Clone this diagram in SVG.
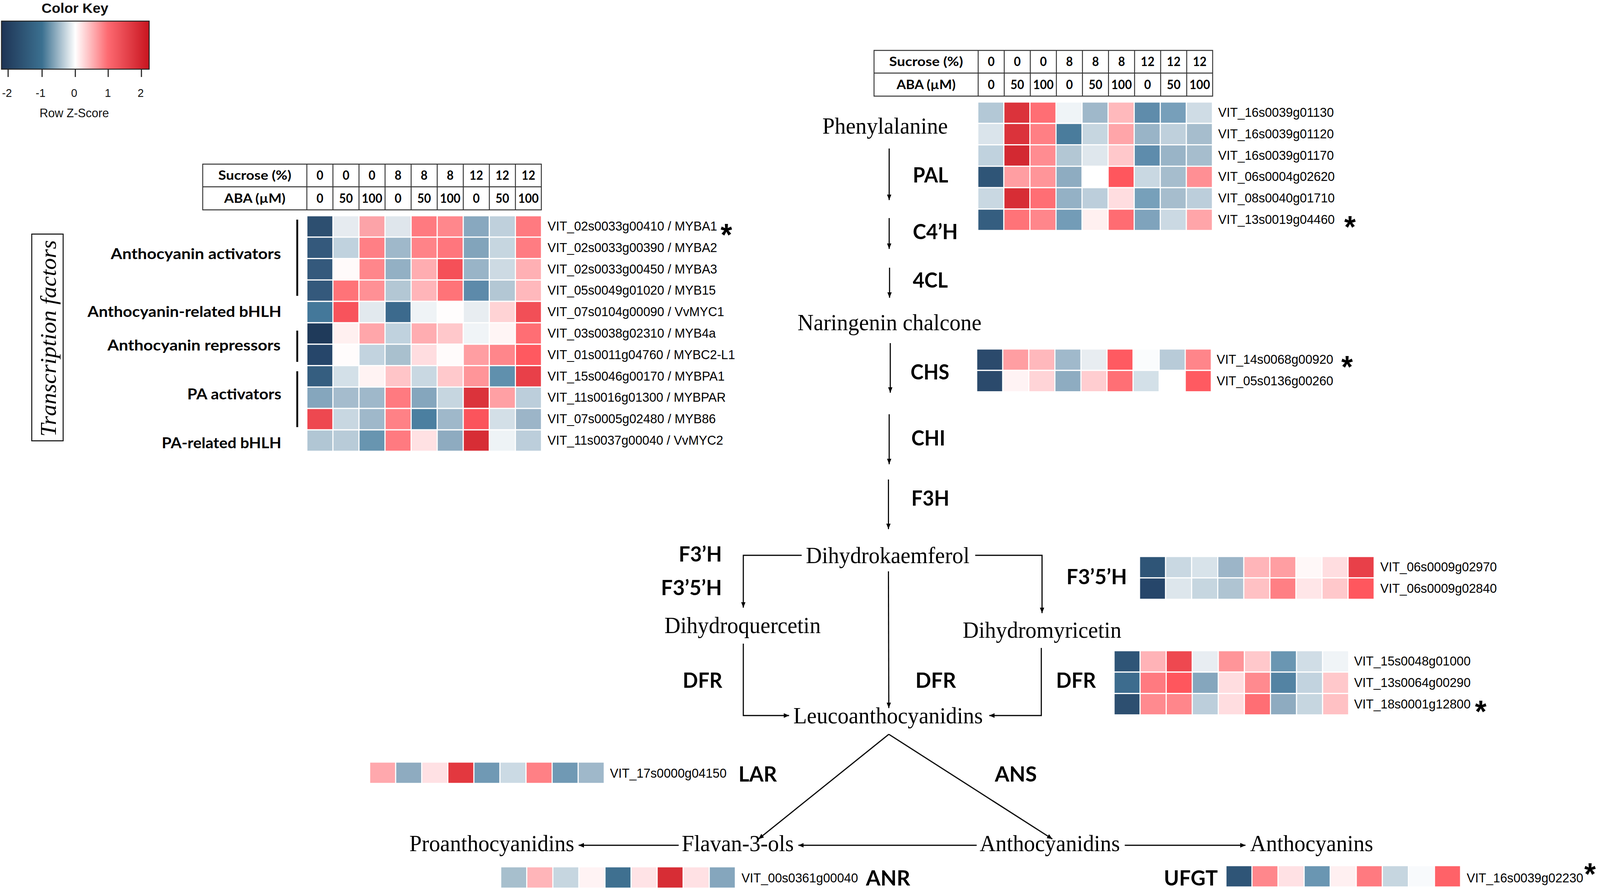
<svg xmlns="http://www.w3.org/2000/svg" width="4333" height="2280" viewBox="0 0 4333 2280">
<style>
.c{stroke:#fff;stroke-width:3}
.vit{font-family:"Liberation Sans",Arial,sans-serif;font-size:34px;fill:#000}
.enz{font-family:Lato,"Open Sans",sans-serif;font-weight:700;font-size:54px;fill:#000}
.cmp{font-family:"Liberation Serif","Times New Roman",serif;font-size:60px;text-anchor:middle;fill:#000}
.tb{font-family:Lato,"Open Sans",sans-serif;font-weight:700;font-size:32px;text-anchor:middle;fill:#000}
.grp{font-family:Lato,"Open Sans",sans-serif;font-weight:700;font-size:38px;text-anchor:end;fill:#000}
.ast{font-family:"Liberation Sans",Arial,sans-serif;font-weight:700;font-size:80px;text-anchor:middle;fill:#000}
.tl{stroke:#333;stroke-width:2.5;fill:none}
.conn line,.conn polyline{stroke:#000;stroke-width:3;fill:none;marker-end:url(#ah)}
.key{font-family:"Liberation Sans",Arial,sans-serif;fill:#111}
</style>
<defs>
<linearGradient id="kg" x1="0" y1="0" x2="1" y2="0">
<stop offset="0" stop-color="#1e3455"/>
<stop offset="0.275" stop-color="#3b7090"/>
<stop offset="0.5" stop-color="#ffffff"/>
<stop offset="0.72" stop-color="#fd6a71"/>
<stop offset="1" stop-color="#c8141f"/>
</linearGradient>
<marker id="ah" viewBox="0 0 12 10" refX="12" refY="5" markerWidth="14.4" markerHeight="12" markerUnits="userSpaceOnUse" orient="auto"><path d="M0,0 L12,5 L0,10 z" fill="#000"/></marker>
</defs>
<rect width="4333" height="2280" fill="#fff"/>
<g id="diagram" transform="scale(0.9453,1)">

<g id="color-key">
<text class="key" x="203" y="33" font-size="35" font-weight="700" text-anchor="middle" textLength="181" lengthAdjust="spacingAndGlyphs">Color Key</text>
<rect x="4" y="54" width="400" height="123" fill="url(#kg)" stroke="#222" stroke-width="2.5"/>
<g stroke="#222" stroke-width="3"><line x1="22" y1="177" x2="22" y2="197"/><line x1="114" y1="177" x2="114" y2="197"/><line x1="204" y1="177" x2="204" y2="197"/><line x1="293" y1="177" x2="293" y2="197"/><line x1="383" y1="177" x2="383" y2="197"/></g>
<g class="key" font-size="30" text-anchor="middle"><text x="19" y="248">-2</text><text x="110" y="248">-1</text><text x="201" y="248">0</text><text x="292" y="248">1</text><text x="381" y="248">2</text></g>
<text class="key" x="201" y="300" font-size="31" text-anchor="middle" textLength="188" lengthAdjust="spacingAndGlyphs">Row Z-Score</text>
</g>

<g id="tf-box">
<rect x="86" y="599" width="85" height="529" fill="none" stroke="#000" stroke-width="2.5"/>
<text transform="translate(151,866) rotate(-90)" font-family="Liberation Serif,Times New Roman,serif" font-style="italic" font-size="61" text-anchor="middle" textLength="503" lengthAdjust="spacingAndGlyphs">Transcription factors</text>
</g>

<g id="tf-groups">
<text class="grp" x="761" y="663" textLength="461" lengthAdjust="spacingAndGlyphs">Anthocyanin activators</text>
<text class="grp" x="762" y="811" textLength="525" lengthAdjust="spacingAndGlyphs">Anthocyanin-related bHLH</text>
<text class="grp" x="760" y="897" textLength="469" lengthAdjust="spacingAndGlyphs">Anthocyanin repressors</text>
<text class="grp" x="762" y="1022" textLength="255" lengthAdjust="spacingAndGlyphs">PA activators</text>
<text class="grp" x="762" y="1147" textLength="324" lengthAdjust="spacingAndGlyphs">PA-related bHLH</text>
<g stroke="#000" stroke-width="5"><line x1="805" y1="562" x2="805" y2="757"/><line x1="805" y1="846" x2="805" y2="926"/><line x1="805" y1="950" x2="805" y2="1093"/></g>
</g>

<g id="table-left" transform="translate(549,420)">
<rect class="tl" x="0" y="0" width="917" height="117"/>
<line class="tl" x1="0" y1="58" x2="917" y2="58"/>
<g class="tl"><line x1="282" y1="0" x2="282" y2="117"/><line x1="352.6" y1="0" x2="352.6" y2="117"/><line x1="423.2" y1="0" x2="423.2" y2="117"/><line x1="493.8" y1="0" x2="493.8" y2="117"/><line x1="564.4" y1="0" x2="564.4" y2="117"/><line x1="635" y1="0" x2="635" y2="117"/><line x1="705.6" y1="0" x2="705.6" y2="117"/><line x1="776.2" y1="0" x2="776.2" y2="117"/><line x1="846.8" y1="0" x2="846.8" y2="117"/></g>
<text class="tb" x="141" y="40.5" textLength="198" lengthAdjust="spacingAndGlyphs">Sucrose (%)</text>
<text class="tb" x="141" y="99" textLength="166" lengthAdjust="spacingAndGlyphs">ABA (µM)</text>
<text class="tb" x="317.3" y="40.5">0</text><text class="tb" x="387.9" y="40.5">0</text><text class="tb" x="458.5" y="40.5">0</text><text class="tb" x="529.1" y="40.5">8</text><text class="tb" x="599.7" y="40.5">8</text><text class="tb" x="670.3" y="40.5">8</text><text class="tb" x="740.9" y="40.5">12</text><text class="tb" x="811.5" y="40.5">12</text><text class="tb" x="882.1" y="40.5">12</text>
<text class="tb" x="317.3" y="99">0</text><text class="tb" x="387.9" y="99">50</text><text class="tb" x="458.5" y="99">100</text><text class="tb" x="529.1" y="99">0</text><text class="tb" x="599.7" y="99">50</text><text class="tb" x="670.3" y="99">100</text><text class="tb" x="740.9" y="99">0</text><text class="tb" x="811.5" y="99">50</text><text class="tb" x="882.1" y="99">100</text>
</g>

<g id="heatmap-tf" transform="translate(831,552)">
<g><rect class="c" x="0" y="0" width="70.6" height="54.8" fill="#2d4f70"/><rect class="c" x="70.6" y="0" width="70.6" height="54.8" fill="#e6ebf0"/><rect class="c" x="141.2" y="0" width="70.6" height="54.8" fill="#fca3a8"/><rect class="c" x="211.8" y="0" width="70.6" height="54.8" fill="#dfe6ec"/><rect class="c" x="282.4" y="0" width="70.6" height="54.8" fill="#ff7a80"/><rect class="c" x="353" y="0" width="70.6" height="54.8" fill="#ff878c"/><rect class="c" x="423.6" y="0" width="70.6" height="54.8" fill="#88a8bf"/><rect class="c" x="494.2" y="0" width="70.6" height="54.8" fill="#bfd0dc"/><rect class="c" x="564.8" y="0" width="70.6" height="54.8" fill="#ff7a80"/></g>
<g transform="translate(0,54.8)"><rect class="c" x="0" y="0" width="70.6" height="54.8" fill="#34597c"/><rect class="c" x="70.6" y="0" width="70.6" height="54.8" fill="#c0d2de"/><rect class="c" x="141.2" y="0" width="70.6" height="54.8" fill="#ff7f85"/><rect class="c" x="211.8" y="0" width="70.6" height="54.8" fill="#9fb8ca"/><rect class="c" x="282.4" y="0" width="70.6" height="54.8" fill="#ff8388"/><rect class="c" x="353" y="0" width="70.6" height="54.8" fill="#ff767d"/><rect class="c" x="423.6" y="0" width="70.6" height="54.8" fill="#82a4bb"/><rect class="c" x="494.2" y="0" width="70.6" height="54.8" fill="#c6d6e0"/><rect class="c" x="564.8" y="0" width="70.6" height="54.8" fill="#ff7c82"/></g>
<g transform="translate(0,109.6)"><rect class="c" x="0" y="0" width="70.6" height="54.8" fill="#34597c"/><rect class="c" x="70.6" y="0" width="70.6" height="54.8" fill="#fffafa"/><rect class="c" x="141.2" y="0" width="70.6" height="54.8" fill="#ff868b"/><rect class="c" x="211.8" y="0" width="70.6" height="54.8" fill="#93b0c4"/><rect class="c" x="282.4" y="0" width="70.6" height="54.8" fill="#ffadb1"/><rect class="c" x="353" y="0" width="70.6" height="54.8" fill="#f55058"/><rect class="c" x="423.6" y="0" width="70.6" height="54.8" fill="#99b4c7"/><rect class="c" x="494.2" y="0" width="70.6" height="54.8" fill="#cddae3"/><rect class="c" x="564.8" y="0" width="70.6" height="54.8" fill="#ffb0b4"/></g>
<g transform="translate(0,164.4)"><rect class="c" x="0" y="0" width="70.6" height="54.8" fill="#34597c"/><rect class="c" x="70.6" y="0" width="70.6" height="54.8" fill="#ff7378"/><rect class="c" x="141.2" y="0" width="70.6" height="54.8" fill="#ff9095"/><rect class="c" x="211.8" y="0" width="70.6" height="54.8" fill="#b3c7d4"/><rect class="c" x="282.4" y="0" width="70.6" height="54.8" fill="#ffb5b9"/><rect class="c" x="353" y="0" width="70.6" height="54.8" fill="#ff7378"/><rect class="c" x="423.6" y="0" width="70.6" height="54.8" fill="#5d8aaa"/><rect class="c" x="494.2" y="0" width="70.6" height="54.8" fill="#b3c7d4"/><rect class="c" x="564.8" y="0" width="70.6" height="54.8" fill="#ffb8bc"/></g>
<g transform="translate(0,219.2)"><rect class="c" x="0" y="0" width="70.6" height="54.8" fill="#44789a"/><rect class="c" x="70.6" y="0" width="70.6" height="54.8" fill="#f8535c"/><rect class="c" x="141.2" y="0" width="70.6" height="54.8" fill="#e2e9ee"/><rect class="c" x="211.8" y="0" width="70.6" height="54.8" fill="#3c6a8d"/><rect class="c" x="282.4" y="0" width="70.6" height="54.8" fill="#eff3f6"/><rect class="c" x="353" y="0" width="70.6" height="54.8" fill="#fffdfd"/><rect class="c" x="423.6" y="0" width="70.6" height="54.8" fill="#e8edf1"/><rect class="c" x="494.2" y="0" width="70.6" height="54.8" fill="#ffd3d5"/><rect class="c" x="564.8" y="0" width="70.6" height="54.8" fill="#f24f57"/></g>
<g transform="translate(0,274)"><rect class="c" x="0" y="0" width="70.6" height="54.8" fill="#1f3a5a"/><rect class="c" x="70.6" y="0" width="70.6" height="54.8" fill="#fff0f0"/><rect class="c" x="141.2" y="0" width="70.6" height="54.8" fill="#ffa6aa"/><rect class="c" x="211.8" y="0" width="70.6" height="54.8" fill="#c0d2de"/><rect class="c" x="282.4" y="0" width="70.6" height="54.8" fill="#ffadb1"/><rect class="c" x="353" y="0" width="70.6" height="54.8" fill="#ffc8cb"/><rect class="c" x="423.6" y="0" width="70.6" height="54.8" fill="#f0f4f7"/><rect class="c" x="494.2" y="0" width="70.6" height="54.8" fill="#fff5f5"/><rect class="c" x="564.8" y="0" width="70.6" height="54.8" fill="#ff6e74"/></g>
<g transform="translate(0,328.8)"><rect class="c" x="0" y="0" width="70.6" height="54.8" fill="#26466a"/><rect class="c" x="70.6" y="0" width="70.6" height="54.8" fill="#fffcfc"/><rect class="c" x="141.2" y="0" width="70.6" height="54.8" fill="#c2d3df"/><rect class="c" x="211.8" y="0" width="70.6" height="54.8" fill="#a9c0ce"/><rect class="c" x="282.4" y="0" width="70.6" height="54.8" fill="#ffdde0"/><rect class="c" x="353" y="0" width="70.6" height="54.8" fill="#fffbfb"/><rect class="c" x="423.6" y="0" width="70.6" height="54.8" fill="#ff9ea2"/><rect class="c" x="494.2" y="0" width="70.6" height="54.8" fill="#ff868b"/><rect class="c" x="564.8" y="0" width="70.6" height="54.8" fill="#ff5960"/></g>
<g transform="translate(0,383.6)"><rect class="c" x="0" y="0" width="70.6" height="54.8" fill="#355e80"/><rect class="c" x="70.6" y="0" width="70.6" height="54.8" fill="#d3e0e8"/><rect class="c" x="141.2" y="0" width="70.6" height="54.8" fill="#fff3f3"/><rect class="c" x="211.8" y="0" width="70.6" height="54.8" fill="#ffc5c8"/><rect class="c" x="282.4" y="0" width="70.6" height="54.8" fill="#c9d8e2"/><rect class="c" x="353" y="0" width="70.6" height="54.8" fill="#ffc9cc"/><rect class="c" x="423.6" y="0" width="70.6" height="54.8" fill="#ff9599"/><rect class="c" x="494.2" y="0" width="70.6" height="54.8" fill="#6090ad"/><rect class="c" x="564.8" y="0" width="70.6" height="54.8" fill="#e84049"/></g>
<g transform="translate(0,438.4)"><rect class="c" x="0" y="0" width="70.6" height="54.8" fill="#85a6bd"/><rect class="c" x="70.6" y="0" width="70.6" height="54.8" fill="#a5bccd"/><rect class="c" x="141.2" y="0" width="70.6" height="54.8" fill="#9fb8ca"/><rect class="c" x="211.8" y="0" width="70.6" height="54.8" fill="#ff7a80"/><rect class="c" x="282.4" y="0" width="70.6" height="54.8" fill="#85a6bd"/><rect class="c" x="353" y="0" width="70.6" height="54.8" fill="#c6d6e0"/><rect class="c" x="423.6" y="0" width="70.6" height="54.8" fill="#db333b"/><rect class="c" x="494.2" y="0" width="70.6" height="54.8" fill="#ffa0a4"/><rect class="c" x="564.8" y="0" width="70.6" height="54.8" fill="#bccedb"/></g>
<g transform="translate(0,493.2)"><rect class="c" x="0" y="0" width="70.6" height="54.8" fill="#ee4850"/><rect class="c" x="70.6" y="0" width="70.6" height="54.8" fill="#c8d7e1"/><rect class="c" x="141.2" y="0" width="70.6" height="54.8" fill="#9fb8ca"/><rect class="c" x="211.8" y="0" width="70.6" height="54.8" fill="#ff8186"/><rect class="c" x="282.4" y="0" width="70.6" height="54.8" fill="#4b7fa0"/><rect class="c" x="353" y="0" width="70.6" height="54.8" fill="#9fb8ca"/><rect class="c" x="423.6" y="0" width="70.6" height="54.8" fill="#fb545c"/><rect class="c" x="494.2" y="0" width="70.6" height="54.8" fill="#d3dfe7"/><rect class="c" x="564.8" y="0" width="70.6" height="54.8" fill="#9cb5c8"/></g>
<g transform="translate(0,548)"><rect class="c" x="0" y="0" width="70.6" height="54.8" fill="#b1c6d4"/><rect class="c" x="70.6" y="0" width="70.6" height="54.8" fill="#b8cbd8"/><rect class="c" x="141.2" y="0" width="70.6" height="54.8" fill="#6895b0"/><rect class="c" x="211.8" y="0" width="70.6" height="54.8" fill="#ff7a80"/><rect class="c" x="282.4" y="0" width="70.6" height="54.8" fill="#ffe1e3"/><rect class="c" x="353" y="0" width="70.6" height="54.8" fill="#8eabc0"/><rect class="c" x="423.6" y="0" width="70.6" height="54.8" fill="#d72d35"/><rect class="c" x="494.2" y="0" width="70.6" height="54.8" fill="#eef3f6"/><rect class="c" x="564.8" y="0" width="70.6" height="54.8" fill="#bccedb"/></g>
</g>
<g id="labels-tf">
<text class="vit" x="1483" y="590">VIT_02s0033g00410 / MYBA1</text>
<text class="vit" x="1483" y="644.8">VIT_02s0033g00390 / MYBA2</text>
<text class="vit" x="1483" y="699.6">VIT_02s0033g00450 / MYBA3</text>
<text class="vit" x="1483" y="754.4">VIT_05s0049g01020 / MYB15</text>
<text class="vit" x="1483" y="809.2">VIT_07s0104g00090 / VvMYC1</text>
<text class="vit" x="1483" y="864">VIT_03s0038g02310 / MYB4a</text>
<text class="vit" x="1483" y="918.8">VIT_01s0011g04760 / MYBC2-L1</text>
<text class="vit" x="1483" y="973.6">VIT_15s0046g00170 / MYBPA1</text>
<text class="vit" x="1483" y="1028.4">VIT_11s0016g01300 / MYBPAR</text>
<text class="vit" x="1483" y="1083.2">VIT_07s0005g02480 / MYB86</text>
<text class="vit" x="1483" y="1138">VIT_11s0037g00040 / VvMYC2</text>
<text class="ast" x="1967" y="628">*</text>
</g>

<g id="table-right" transform="translate(2367,129)">
<rect class="tl" x="0" y="0" width="917" height="117"/>
<line class="tl" x1="0" y1="58" x2="917" y2="58"/>
<g class="tl"><line x1="282" y1="0" x2="282" y2="117"/><line x1="352.6" y1="0" x2="352.6" y2="117"/><line x1="423.2" y1="0" x2="423.2" y2="117"/><line x1="493.8" y1="0" x2="493.8" y2="117"/><line x1="564.4" y1="0" x2="564.4" y2="117"/><line x1="635" y1="0" x2="635" y2="117"/><line x1="705.6" y1="0" x2="705.6" y2="117"/><line x1="776.2" y1="0" x2="776.2" y2="117"/><line x1="846.8" y1="0" x2="846.8" y2="117"/></g>
<text class="tb" x="141" y="40.5" textLength="200" lengthAdjust="spacingAndGlyphs">Sucrose (%)</text>
<text class="tb" x="141" y="99" textLength="160" lengthAdjust="spacingAndGlyphs">ABA (µM)</text>
<text class="tb" x="317.3" y="40.5">0</text><text class="tb" x="387.9" y="40.5">0</text><text class="tb" x="458.5" y="40.5">0</text><text class="tb" x="529.1" y="40.5">8</text><text class="tb" x="599.7" y="40.5">8</text><text class="tb" x="670.3" y="40.5">8</text><text class="tb" x="740.9" y="40.5">12</text><text class="tb" x="811.5" y="40.5">12</text><text class="tb" x="882.1" y="40.5">12</text>
<text class="tb" x="317.3" y="99">0</text><text class="tb" x="387.9" y="99">50</text><text class="tb" x="458.5" y="99">100</text><text class="tb" x="529.1" y="99">0</text><text class="tb" x="599.7" y="99">50</text><text class="tb" x="670.3" y="99">100</text><text class="tb" x="740.9" y="99">0</text><text class="tb" x="811.5" y="99">50</text><text class="tb" x="882.1" y="99">100</text>
</g>

<g id="heatmap-pal" transform="translate(2648,261)">
<g><rect class="c" x="0" y="0" width="70.6" height="54.8" fill="#b3c8d6"/><rect class="c" x="70.6" y="0" width="70.6" height="54.8" fill="#db333b"/><rect class="c" x="141.2" y="0" width="70.6" height="54.8" fill="#ff6e74"/><rect class="c" x="211.8" y="0" width="70.6" height="54.8" fill="#eff4f7"/><rect class="c" x="282.4" y="0" width="70.6" height="54.8" fill="#9fb8ca"/><rect class="c" x="353" y="0" width="70.6" height="54.8" fill="#ffb9bc"/><rect class="c" x="423.6" y="0" width="70.6" height="54.8" fill="#5f8cab"/><rect class="c" x="494.2" y="0" width="70.6" height="54.8" fill="#779fba"/><rect class="c" x="564.8" y="0" width="70.6" height="54.8" fill="#cfdce5"/></g>
<g transform="translate(0,54.8)"><rect class="c" x="0" y="0" width="70.6" height="54.8" fill="#dae4eb"/><rect class="c" x="70.6" y="0" width="70.6" height="54.8" fill="#db333b"/><rect class="c" x="141.2" y="0" width="70.6" height="54.8" fill="#ff7f84"/><rect class="c" x="211.8" y="0" width="70.6" height="54.8" fill="#4a7c9c"/><rect class="c" x="282.4" y="0" width="70.6" height="54.8" fill="#c6d6e0"/><rect class="c" x="353" y="0" width="70.6" height="54.8" fill="#ffa5a9"/><rect class="c" x="423.6" y="0" width="70.6" height="54.8" fill="#99b4c7"/><rect class="c" x="494.2" y="0" width="70.6" height="54.8" fill="#bfd0dc"/><rect class="c" x="564.8" y="0" width="70.6" height="54.8" fill="#a6bdcd"/></g>
<g transform="translate(0,109.6)"><rect class="c" x="0" y="0" width="70.6" height="54.8" fill="#c0d2de"/><rect class="c" x="70.6" y="0" width="70.6" height="54.8" fill="#d32932"/><rect class="c" x="141.2" y="0" width="70.6" height="54.8" fill="#ff8c91"/><rect class="c" x="211.8" y="0" width="70.6" height="54.8" fill="#b3c7d4"/><rect class="c" x="282.4" y="0" width="70.6" height="54.8" fill="#dfe7ed"/><rect class="c" x="353" y="0" width="70.6" height="54.8" fill="#ffc8cb"/><rect class="c" x="423.6" y="0" width="70.6" height="54.8" fill="#5e8cac"/><rect class="c" x="494.2" y="0" width="70.6" height="54.8" fill="#99b4c7"/><rect class="c" x="564.8" y="0" width="70.6" height="54.8" fill="#a6bdcd"/></g>
<g transform="translate(0,164.4)"><rect class="c" x="0" y="0" width="70.6" height="54.8" fill="#2f5577"/><rect class="c" x="70.6" y="0" width="70.6" height="54.8" fill="#ff9ea2"/><rect class="c" x="141.2" y="0" width="70.6" height="54.8" fill="#ff9599"/><rect class="c" x="211.8" y="0" width="70.6" height="54.8" fill="#8eacc1"/><rect class="c" x="282.4" y="0" width="70.6" height="54.8" fill="#ffffff"/><rect class="c" x="353" y="0" width="70.6" height="54.8" fill="#ff565d"/><rect class="c" x="423.6" y="0" width="70.6" height="54.8" fill="#c9d8e2"/><rect class="c" x="494.2" y="0" width="70.6" height="54.8" fill="#a6bdcd"/><rect class="c" x="564.8" y="0" width="70.6" height="54.8" fill="#ff8f94"/></g>
<g transform="translate(0,219.2)"><rect class="c" x="0" y="0" width="70.6" height="54.8" fill="#c9d8e2"/><rect class="c" x="70.6" y="0" width="70.6" height="54.8" fill="#d72d35"/><rect class="c" x="141.2" y="0" width="70.6" height="54.8" fill="#ff6e74"/><rect class="c" x="211.8" y="0" width="70.6" height="54.8" fill="#94b1c5"/><rect class="c" x="282.4" y="0" width="70.6" height="54.8" fill="#bccedb"/><rect class="c" x="353" y="0" width="70.6" height="54.8" fill="#ffdde0"/><rect class="c" x="423.6" y="0" width="70.6" height="54.8" fill="#77a0ba"/><rect class="c" x="494.2" y="0" width="70.6" height="54.8" fill="#a6bdcd"/><rect class="c" x="564.8" y="0" width="70.6" height="54.8" fill="#bccedb"/></g>
<g transform="translate(0,274)"><rect class="c" x="0" y="0" width="70.6" height="54.8" fill="#355e80"/><rect class="c" x="70.6" y="0" width="70.6" height="54.8" fill="#ff7378"/><rect class="c" x="141.2" y="0" width="70.6" height="54.8" fill="#ff868b"/><rect class="c" x="211.8" y="0" width="70.6" height="54.8" fill="#739cb7"/><rect class="c" x="282.4" y="0" width="70.6" height="54.8" fill="#fff0f0"/><rect class="c" x="353" y="0" width="70.6" height="54.8" fill="#ff6c72"/><rect class="c" x="423.6" y="0" width="70.6" height="54.8" fill="#7fa3bc"/><rect class="c" x="494.2" y="0" width="70.6" height="54.8" fill="#cbd9e3"/><rect class="c" x="564.8" y="0" width="70.6" height="54.8" fill="#ffa5a9"/></g>
</g>
<g id="labels-pal">
<text class="vit" x="3299" y="299">VIT_16s0039g01130</text>
<text class="vit" x="3299" y="353.8">VIT_16s0039g01120</text>
<text class="vit" x="3299" y="408.6">VIT_16s0039g01170</text>
<text class="vit" x="3299" y="463.4">VIT_06s0004g02620</text>
<text class="vit" x="3299" y="518.2">VIT_08s0040g01710</text>
<text class="vit" x="3299" y="573">VIT_13s0019g04460</text>
<text class="ast" x="3656" y="608">*</text>
</g>

<g id="heatmap-chs" transform="translate(2645,893)">
<g><rect class="c" x="0" y="0" width="70.6" height="54.8" fill="#2b4a6c"/><rect class="c" x="70.6" y="0" width="70.6" height="54.8" fill="#ff9ea2"/><rect class="c" x="141.2" y="0" width="70.6" height="54.8" fill="#ffb8bc"/><rect class="c" x="211.8" y="0" width="70.6" height="54.8" fill="#a0b9cb"/><rect class="c" x="282.4" y="0" width="70.6" height="54.8" fill="#e8edf1"/><rect class="c" x="353" y="0" width="70.6" height="54.8" fill="#ff5a61"/><rect class="c" x="423.6" y="0" width="70.6" height="54.8" fill="#fafcfd"/><rect class="c" x="494.2" y="0" width="70.6" height="54.8" fill="#b8cbd8"/><rect class="c" x="564.8" y="0" width="70.6" height="54.8" fill="#ff858a"/></g>
<g transform="translate(0,54.8)"><rect class="c" x="0" y="0" width="70.6" height="54.8" fill="#2b4a6c"/><rect class="c" x="70.6" y="0" width="70.6" height="54.8" fill="#fff3f4"/><rect class="c" x="141.2" y="0" width="70.6" height="54.8" fill="#ffd4d7"/><rect class="c" x="211.8" y="0" width="70.6" height="54.8" fill="#8eacc1"/><rect class="c" x="282.4" y="0" width="70.6" height="54.8" fill="#ffcdd0"/><rect class="c" x="353" y="0" width="70.6" height="54.8" fill="#ff6f75"/><rect class="c" x="423.6" y="0" width="70.6" height="54.8" fill="#d3e0e8"/><rect class="c" x="494.2" y="0" width="70.6" height="54.8" fill="#ffffff"/><rect class="c" x="564.8" y="0" width="70.6" height="54.8" fill="#ff5a61"/></g>
</g>
<g id="labels-chs">
<text class="vit" x="3295" y="931">VIT_14s0068g00920</text>
<text class="vit" x="3295" y="986">VIT_05s0136g00260</text>
<text class="ast" x="3648" y="966">*</text>
</g>

<g id="heatmap-f35h" transform="translate(3086,1424)">
<g><rect class="c" x="0" y="0" width="70.6" height="54.8" fill="#2f5577"/><rect class="c" x="70.6" y="0" width="70.6" height="54.8" fill="#c9d8e2"/><rect class="c" x="141.2" y="0" width="70.6" height="54.8" fill="#d8e3ea"/><rect class="c" x="211.8" y="0" width="70.6" height="54.8" fill="#9cb5c8"/><rect class="c" x="282.4" y="0" width="70.6" height="54.8" fill="#ffb5b9"/><rect class="c" x="353" y="0" width="70.6" height="54.8" fill="#ff9ea2"/><rect class="c" x="423.6" y="0" width="70.6" height="54.8" fill="#fff8f8"/><rect class="c" x="494.2" y="0" width="70.6" height="54.8" fill="#ffdde0"/><rect class="c" x="564.8" y="0" width="70.6" height="54.8" fill="#e84049"/></g>
<g transform="translate(0,54.8)"><rect class="c" x="0" y="0" width="70.6" height="54.8" fill="#26466a"/><rect class="c" x="70.6" y="0" width="70.6" height="54.8" fill="#dde6ec"/><rect class="c" x="141.2" y="0" width="70.6" height="54.8" fill="#c6d6e0"/><rect class="c" x="211.8" y="0" width="70.6" height="54.8" fill="#afc4d2"/><rect class="c" x="282.4" y="0" width="70.6" height="54.8" fill="#ffc1c4"/><rect class="c" x="353" y="0" width="70.6" height="54.8" fill="#ff7f84"/><rect class="c" x="423.6" y="0" width="70.6" height="54.8" fill="#ffe6e8"/><rect class="c" x="494.2" y="0" width="70.6" height="54.8" fill="#ffc8cb"/><rect class="c" x="564.8" y="0" width="70.6" height="54.8" fill="#ff575e"/></g>
</g>
<g id="labels-f35h">
<text class="vit" x="3738" y="1462">VIT_06s0009g02970</text>
<text class="vit" x="3738" y="1517">VIT_06s0009g02840</text>
</g>

<g id="heatmap-dfr" transform="translate(3017,1665)">
<g><rect class="c" x="0" y="0" width="70.6" height="54.8" fill="#2f5577"/><rect class="c" x="70.6" y="0" width="70.6" height="54.8" fill="#ffb3b7"/><rect class="c" x="141.2" y="0" width="70.6" height="54.8" fill="#ee4850"/><rect class="c" x="211.8" y="0" width="70.6" height="54.8" fill="#e8edf2"/><rect class="c" x="282.4" y="0" width="70.6" height="54.8" fill="#ff9599"/><rect class="c" x="353" y="0" width="70.6" height="54.8" fill="#ffc8cb"/><rect class="c" x="423.6" y="0" width="70.6" height="54.8" fill="#6a96b2"/><rect class="c" x="494.2" y="0" width="70.6" height="54.8" fill="#d0dde6"/><rect class="c" x="564.8" y="0" width="70.6" height="54.8" fill="#f0f4f7"/></g>
<g transform="translate(0,54.8)"><rect class="c" x="0" y="0" width="70.6" height="54.8" fill="#3d6c8e"/><rect class="c" x="70.6" y="0" width="70.6" height="54.8" fill="#ff7a80"/><rect class="c" x="141.2" y="0" width="70.6" height="54.8" fill="#ff565d"/><rect class="c" x="211.8" y="0" width="70.6" height="54.8" fill="#85a6bd"/><rect class="c" x="282.4" y="0" width="70.6" height="54.8" fill="#ffdde0"/><rect class="c" x="353" y="0" width="70.6" height="54.8" fill="#ff8a8f"/><rect class="c" x="423.6" y="0" width="70.6" height="54.8" fill="#5383a3"/><rect class="c" x="494.2" y="0" width="70.6" height="54.8" fill="#c2d3df"/><rect class="c" x="564.8" y="0" width="70.6" height="54.8" fill="#ffc8cb"/></g>
<g transform="translate(0,109.6)"><rect class="c" x="0" y="0" width="70.6" height="54.8" fill="#2d4f70"/><rect class="c" x="70.6" y="0" width="70.6" height="54.8" fill="#ff8a8f"/><rect class="c" x="141.2" y="0" width="70.6" height="54.8" fill="#ff868b"/><rect class="c" x="211.8" y="0" width="70.6" height="54.8" fill="#bccedb"/><rect class="c" x="282.4" y="0" width="70.6" height="54.8" fill="#ffdde0"/><rect class="c" x="353" y="0" width="70.6" height="54.8" fill="#ff6e74"/><rect class="c" x="423.6" y="0" width="70.6" height="54.8" fill="#8eabc0"/><rect class="c" x="494.2" y="0" width="70.6" height="54.8" fill="#c6d6e0"/><rect class="c" x="564.8" y="0" width="70.6" height="54.8" fill="#ffc1c4"/></g>
</g>
<g id="labels-dfr">
<text class="vit" x="3667" y="1703">VIT_15s0048g01000</text>
<text class="vit" x="3667" y="1758">VIT_13s0064g00290</text>
<text class="vit" x="3667" y="1813">VIT_18s0001g12800</text>
<text class="ast" x="4010" y="1848">*</text>
</g>

<g id="heatmap-lar" transform="translate(1001,1950)">
<rect class="c" x="0" y="0" width="70.6" height="54.8" fill="#ffa8ad"/><rect class="c" x="70.6" y="0" width="70.6" height="54.8" fill="#8eabc0"/><rect class="c" x="141.2" y="0" width="70.6" height="54.8" fill="#ffe1e4"/><rect class="c" x="211.8" y="0" width="70.6" height="54.8" fill="#e3383f"/><rect class="c" x="282.4" y="0" width="70.6" height="54.8" fill="#7099b4"/><rect class="c" x="353" y="0" width="70.6" height="54.8" fill="#cbdae4"/><rect class="c" x="423.6" y="0" width="70.6" height="54.8" fill="#ff8085"/><rect class="c" x="494.2" y="0" width="70.6" height="54.8" fill="#7099b4"/><rect class="c" x="564.8" y="0" width="70.6" height="54.8" fill="#9fb8ca"/>
</g>
<g id="labels-lar"><text class="vit" x="1652" y="1990">VIT_17s0000g04150</text></g>

<g id="heatmap-anr" transform="translate(1356,2218)">
<rect class="c" x="0" y="0" width="70.6" height="54.8" fill="#a7bfcd"/><rect class="c" x="70.6" y="0" width="70.6" height="54.8" fill="#ffb5b9"/><rect class="c" x="141.2" y="0" width="70.6" height="54.8" fill="#c6d6e0"/><rect class="c" x="211.8" y="0" width="70.6" height="54.8" fill="#fff3f4"/><rect class="c" x="282.4" y="0" width="70.6" height="54.8" fill="#3f7090"/><rect class="c" x="353" y="0" width="70.6" height="54.8" fill="#ffe3e6"/><rect class="c" x="423.6" y="0" width="70.6" height="54.8" fill="#d72d35"/><rect class="c" x="494.2" y="0" width="70.6" height="54.8" fill="#ffe1e4"/><rect class="c" x="564.8" y="0" width="70.6" height="54.8" fill="#85a6bd"/>
</g>
<g id="labels-anr"><text class="vit" x="2008" y="2258">VIT_00s0361g00040</text></g>

<g id="heatmap-ufgt" transform="translate(3320,2215)">
<rect class="c" x="0" y="0" width="70.6" height="54.8" fill="#2f5577"/><rect class="c" x="70.6" y="0" width="70.6" height="54.8" fill="#ff878c"/><rect class="c" x="141.2" y="0" width="70.6" height="54.8" fill="#ffe1e4"/><rect class="c" x="211.8" y="0" width="70.6" height="54.8" fill="#6a96b2"/><rect class="c" x="282.4" y="0" width="70.6" height="54.8" fill="#fff0f1"/><rect class="c" x="353" y="0" width="70.6" height="54.8" fill="#ff7a80"/><rect class="c" x="423.6" y="0" width="70.6" height="54.8" fill="#c6d6e0"/><rect class="c" x="494.2" y="0" width="70.6" height="54.8" fill="#f8fafc"/><rect class="c" x="564.8" y="0" width="70.6" height="54.8" fill="#ff6268"/>
</g>
<g id="labels-ufgt"><text class="vit" x="3972" y="2258">VIT_16s0039g02230</text><text class="ast" x="4306" y="2264" font-size="66">*</text></g>

<g id="compounds">
<g id="n-phe"><text class="cmp" x="2397" y="342">Phenylalanine</text></g>
<g id="n-nar"><text class="cmp" x="2409" y="845">Naringenin chalcone</text></g>
<g id="n-dhk"><text class="cmp" x="2404" y="1441">Dihydrokaemferol</text></g>
<g id="n-dhq"><text class="cmp" x="2011" y="1620">Dihydroquercetin</text></g>
<g id="n-dhm"><text class="cmp" x="2822" y="1632">Dihydromyricetin</text></g>
<g id="n-leu"><text class="cmp" x="2405" y="1851">Leucoanthocyanidins</text></g>
<g id="n-pro"><text class="cmp" x="1332" y="2178">Proanthocyanidins</text></g>
<g id="n-fla"><text class="cmp" x="1998" y="2178">Flavan-3-ols</text></g>
<g id="n-acd"><text class="cmp" x="2843" y="2178">Anthocyanidins</text></g>
<g id="n-acn"><text class="cmp" x="3552" y="2178">Anthocyanins</text></g>
</g>

<g id="enzymes">
<text class="enz" x="2472" y="467" textLength="96" lengthAdjust="spacingAndGlyphs">PAL</text>
<text class="enz" x="2472" y="612" textLength="122" lengthAdjust="spacingAndGlyphs">C4’H</text>
<text class="enz" x="2472" y="736" textLength="95" lengthAdjust="spacingAndGlyphs">4CL</text>
<text class="enz" x="2466" y="971" textLength="105" lengthAdjust="spacingAndGlyphs">CHS</text>
<text class="enz" x="2468" y="1140" textLength="92" lengthAdjust="spacingAndGlyphs">CHI</text>
<text class="enz" x="2468" y="1294" textLength="103" lengthAdjust="spacingAndGlyphs">F3H</text>
<text class="enz" x="1838" y="1437" textLength="117" lengthAdjust="spacingAndGlyphs">F3’H</text>
<text class="enz" x="1790" y="1523" textLength="165" lengthAdjust="spacingAndGlyphs">F3’5’H</text>
<text class="enz" x="2888" y="1495" textLength="164" lengthAdjust="spacingAndGlyphs">F3’5’H</text>
<text class="enz" x="1849" y="1760" textLength="107" lengthAdjust="spacingAndGlyphs">DFR</text>
<text class="enz" x="2479" y="1760" textLength="110" lengthAdjust="spacingAndGlyphs">DFR</text>
<text class="enz" x="2860" y="1760" textLength="108" lengthAdjust="spacingAndGlyphs">DFR</text>
<text class="enz" x="2000" y="2000" textLength="104" lengthAdjust="spacingAndGlyphs">LAR</text>
<text class="enz" x="2694" y="2000" textLength="114" lengthAdjust="spacingAndGlyphs">ANS</text>
<text class="enz" x="2345" y="2266" textLength="120" lengthAdjust="spacingAndGlyphs">ANR</text>
<text class="enz" x="3152" y="2266" textLength="146" lengthAdjust="spacingAndGlyphs">UFGT</text>
</g>

<g id="connectors" class="conn">
<line x1="2408" y1="380" x2="2408" y2="512"/>
<line x1="2408" y1="558" x2="2408" y2="637"/>
<line x1="2409" y1="685" x2="2409" y2="762"/>
<line x1="2411" y1="878" x2="2411" y2="1005"/>
<line x1="2408" y1="1060" x2="2408" y2="1188"/>
<line x1="2406" y1="1227" x2="2406" y2="1354"/>
<polyline points="2171,1421 2013,1421 2013,1555"/>
<polyline points="2641,1421 2822,1421 2822,1569"/>
<line x1="2406" y1="1462" x2="2407" y2="1812"/>
<polyline points="2013,1647 2013,1831 2137,1831"/>
<polyline points="2820,1658 2820,1831 2679,1831"/>
<line x1="2407" y1="1879" x2="2054" y2="2147"/>
<line x1="2407" y1="1879" x2="2850" y2="2147"/>
<line x1="1838" y1="2163" x2="1567" y2="2163"/>
<line x1="2645" y1="2163" x2="2162" y2="2163"/>
<line x1="3046" y1="2163" x2="3373" y2="2163"/>
</g>
</g>
</svg>
